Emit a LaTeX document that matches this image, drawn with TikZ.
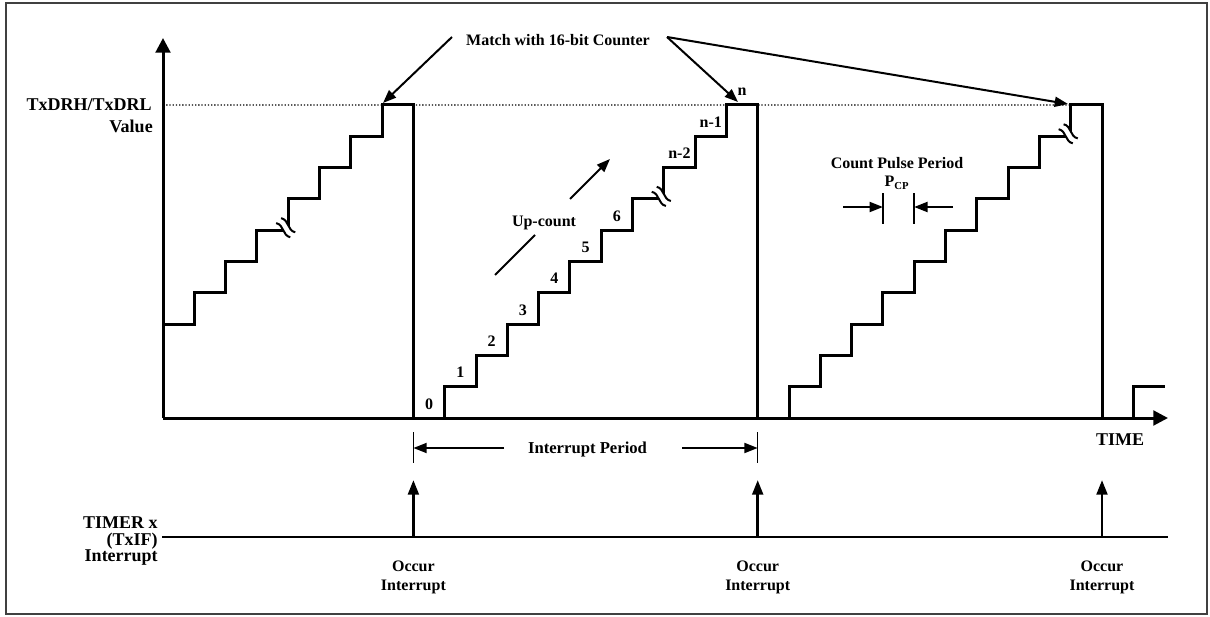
\documentclass[tikz,border=0pt]{standalone}
\usepackage{fontspec}
\setmainfont{Liberation Serif}
\usetikzlibrary{arrows.meta}
\begin{document}
\begin{tikzpicture}[x=0.75pt,y=-0.75pt,
  frame/.style={line width=1.1pt, draw=black!75},
  wave/.style={line width=2.25pt},
  axis/.style={line width=2.25pt, -{Triangle[length=11pt, width=11pt]}},
  ptr/.style={line width=1.5pt, -{Triangle[length=10pt, width=7.5pt]}},
  seg/.style={line width=1.5pt},
  upar/.style={line width=2.2pt, -{Triangle[length=11pt, width=8pt]}},
  tickln/.style={line width=1.1pt},
  refline/.style={line width=1pt, dash pattern=on 1pt off 1.4pt},
  brk/.style={line width=1.5pt},
  txt/.style={font=\bfseries\fontsize{12}{14}\selectfont, inner sep=0pt, anchor=base},
  bigtxt/.style={font=\bfseries\fontsize{13.5}{16}\selectfont, inner sep=0pt, anchor=base},
]
\useasboundingbox (0,0) rectangle (1210,617);
\draw[frame] (6,3) rectangle (1207,614);

% reference (dotted) line and axes
\coordinate (O) at (163,418);
\coordinate (Ytop) at (163,38);
\coordinate (Xend) at (1168,418);
\coordinate (Yref) at (163,105);

% staircase waveform on a grid of 31.3 px
\begin{scope}[shift={(163,418)}, x=23.475pt, y=23.475pt]
  \coordinate (T1) at (7,10);
  \coordinate (T2) at (18,10);
  \coordinate (T3) at (29,10);
\end{scope}
\draw[refline] (Yref) -- (T3);
\draw[axis] (O) -- (Ytop);
\draw[axis] (O) -- (Xend);
\begin{scope}[shift={(163,418)}, x=23.475pt, y=23.475pt]
  \draw[wave] (0,3) -| (1,4) -| (2,5) -| (3,6) -| (4,7) -| (5,8) -| (6,9) -| (7,10)
    -| (8,0) -| (9,1) -| (10,2) -| (11,3) -| (12,4) -| (13,5) -| (14,6) -| (15,7)
    -| (16,8) -| (17,9) -| (18,10) -| (19,0) -| (20,1) -| (21,2) -| (22,3) -| (23,4)
    -| (24,5) -| (25,6) -| (26,7) -| (27,8) -| (28,9) -| (29,10) -| (30,0) -| (31,1) -- (32,1);
\end{scope}

% break marks
\foreach \cx/\cy in {285.7/227.7, 661.3/196.4, 1068.2/133.8}{
  \begin{scope}[shift={(\cx,\cy)}, rotate=-45]
    \fill[white] (-10,-3.5) rectangle (10,3.5);
    \draw[brk] (-10,-3.5) .. controls (-3,-8) and (3,1) .. (10,-3.5);
    \draw[brk] (-10,3.5) .. controls (-3,-1) and (3,8) .. (10,3.5);
  \end{scope}
}

% axis labels
\node[bigtxt, anchor=base east] (vlab1) at (152,111) {TxDRH/TxDRL};
\node[bigtxt, anchor=base east] (vlab2) at (153,132.7) {Value};
\node[bigtxt] (time) at (1120,445) {TIME};

% match arrows
\node[txt] (match) at (558,46) {Match with 16-bit Counter};
\coordinate (mL) at (452,37);
\coordinate (mR) at (667,37);
\coordinate (tip1) at (383,103);
\coordinate (tip2) at (738,102);
\coordinate (tip3) at (1068,104);
\draw[ptr] (mL) -- (tip1);
\draw[ptr] (mR) -- (tip2);
\draw[ptr] (mR) -- (tip3);

% count labels
\node[txt] (n0) at (429.05,409) {0};
\node[txt] (n1) at (460.35,377.7) {1};
\node[txt] (n2) at (491.65,346.4) {2};
\node[txt] (n3) at (522.95,315.1) {3};
\node[txt] (n4) at (554.25,283.8) {4};
\node[txt] (n5) at (585.55,252.5) {5};
\node[txt] (n6) at (616.85,221.2) {6};
\node[txt] (nm2) at (679.45,158.6) {n-2};
\node[txt] (nm1) at (710.75,127.3) {n-1};
\node[txt] (nn) at (742.05,96) {n};

% up-count
\coordinate (ucS) at (495,275);
\coordinate (ucA) at (535,235);
\coordinate (ucB) at (570,199);
\coordinate (ucE) at (610,159);
\draw[seg] (ucS) -- (ucA);
\draw[ptr] (ucB) -- (ucE);
\node[txt] (upc) at (544,226.7) {Up-count};

% count pulse period
\node[txt] (cpp) at (897,168.3) {Count Pulse Period};
\node[txt] (pcp) at (897,186.7) {P\textsubscript{CP}};
\coordinate (cpt1a) at (882.9,193);
\coordinate (cpt1b) at (882.9,224);
\coordinate (cpt2a) at (914.2,193);
\coordinate (cpt2b) at (914.2,224);
\draw[tickln] (cpt1a) -- (cpt1b);
\draw[tickln] (cpt2a) -- (cpt2b);
\coordinate (cpL) at (843,207);
\coordinate (cpLt) at (882.9,207);
\coordinate (cpR) at (953,207);
\coordinate (cpRt) at (914.2,207);
\draw[ptr] (cpL) -- (cpLt);
\draw[ptr] (cpR) -- (cpRt);

% interrupt period
\coordinate (ipt1a) at (413.4,432);
\coordinate (ipt1b) at (413.4,463);
\coordinate (ipt2a) at (757.7,432);
\coordinate (ipt2b) at (757.7,463);
\draw[tickln] (ipt1a) -- (ipt1b);
\draw[tickln] (ipt2a) -- (ipt2b);
\node[txt, font=\bfseries\fontsize{12.5}{14}\selectfont] (ipd) at (587.5,453.3) {Interrupt Period};
\coordinate (ipL) at (504,448);
\coordinate (ipLt) at (413.4,448);
\coordinate (ipR) at (682,448);
\coordinate (ipRt) at (757.7,448);
\draw[ptr] (ipL) -- (ipLt);
\draw[ptr] (ipR) -- (ipRt);

% interrupt signal
\node[bigtxt, anchor=base east] (tmr1) at (158,528.3) {TIMER x};
\node[bigtxt, anchor=base east] (tmr2) at (158,545) {(TxIF)};
\node[bigtxt, anchor=base east] (tmr3) at (158,561.7) {Interrupt};
\coordinate (bl0) at (162,537);
\coordinate (bl1) at (1168,537);
\draw[line width=1.75pt] (bl0) -- (bl1);
\foreach \ix/\nm in {413.4/a, 757.7/b, 1102/c}{
  \coordinate (ib\nm) at (\ix,537);
  \coordinate (it\nm) at (\ix,480);
  \draw[upar] (ib\nm) -- (it\nm);
  \node[txt] (occ\nm) at (\ix,571.7) {Occur};
  \node[txt] (int\nm) at (\ix,590) {Interrupt};
}
\end{tikzpicture}
\end{document}
